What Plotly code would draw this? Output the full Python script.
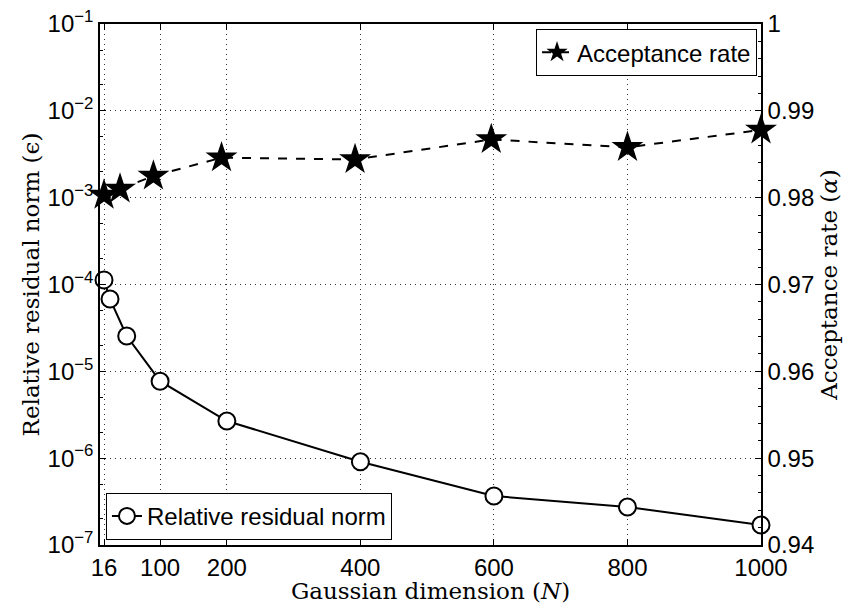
import plotly.graph_objects as go

# Relative residual norm versus Gaussian dimension
dim_residual = [16, 25, 50, 100, 200, 400, 600, 800, 1000]
residual_norm = [1.13e-4, 6.8e-5, 2.55e-5, 7.7e-6, 2.68e-6, 9.1e-7, 3.67e-7, 2.74e-7, 1.70e-7]

# Acceptance rate versus Gaussian dimension
dim_accept = [16, 40, 90, 192, 392, 596, 800, 1000]
accept_rate = [0.9803, 0.9810, 0.9825, 0.9846, 0.9844, 0.9867, 0.9858, 0.9878]

left_tick_exps = [-7, -6, -5, -4, -3, -2, -1]
right_ticks = [0.94, 0.95, 0.96, 0.97, 0.98, 0.99, 1.0]
right_tick_text = ["0.94", "0.95", "0.96", "0.97", "0.98", "0.99", "1"]
x_ticks = [16, 100, 200, 400, 600, 800, 1000]

tick_font = dict(family="Liberation Sans", size=24, color="black")
title_font = dict(family="DejaVu Serif", size=23, color="black")
legend_font = dict(family="Liberation Sans", size=24, color="black")

fig = go.Figure()

fig.add_trace(go.Scatter(
    x=dim_residual, y=residual_norm, name="Relative residual norm",
    mode="lines+markers", yaxis="y", legend="legend2", showlegend=True,
    line=dict(color="black", width=2),
    marker=dict(symbol="circle", size=17, color="white",
                line=dict(color="black", width=2)),
    cliponaxis=False,
))

fig.add_trace(go.Scatter(
    x=dim_accept, y=accept_rate, name="Acceptance rate",
    mode="lines+markers", yaxis="y2", legend="legend", showlegend=True,
    line=dict(color="black", width=2, dash="dash"),
    marker=dict(symbol="star", size=24, color="black",
                line=dict(color="black", width=0)),
    cliponaxis=False,
))

grid = dict(showgrid=True, gridcolor="#333333", griddash="1px,4px", gridwidth=1)

fig.update_layout(
    width=850, height=604,
    margin=dict(l=100, r=89, t=24, b=59),
    paper_bgcolor="white", plot_bgcolor="white",
    showlegend=True,
    xaxis=dict(
        range=[10, 1000], tickvals=x_ticks, ticks="inside", ticklen=6,
        tickcolor="black", linecolor="black", linewidth=1.5, mirror="ticks",
        showline=True, zeroline=False, tickfont=tick_font, automargin=False,
        title=dict(text="Gaussian dimension (<i>N</i>)", font=title_font, standoff=0),
        **grid,
    ),
    yaxis=dict(
        type="log", range=[-7, -1],
        tickvals=[10 ** e for e in left_tick_exps],
        ticktext=["10<sup>\u2212%d</sup>" % (-e) for e in left_tick_exps],
        ticks="inside", ticklen=6, tickcolor="black",
        linecolor="black", linewidth=1.5, showline=True, zeroline=False,
        tickfont=tick_font, automargin=False,
        minor=dict(ticks="inside", ticklen=3, tickcolor="black", showgrid=False),
        title=dict(text="Relative residual norm (\u03f5)", font=title_font, standoff=2),
        **grid,
    ),
    yaxis2=dict(
        overlaying="y", side="right", range=[0.94, 1.0],
        tickvals=right_ticks, ticktext=right_tick_text,
        ticks="inside", ticklen=6, tickcolor="black",
        linecolor="black", linewidth=1.5, showline=True, zeroline=False,
        showgrid=False, tickfont=tick_font, automargin=False,
        minor=dict(ticks="inside", ticklen=3, tickcolor="black", dtick=0.002),
        title=dict(text="Acceptance rate (<i>\u03b1</i>)", font=title_font, standoff=8),
    ),
    legend=dict(
        visible=True,
        x=0.994, y=0.99, xanchor="right", yanchor="top",
        bordercolor="black", borderwidth=1, bgcolor="white",
        font=legend_font, itemwidth=30, tracegroupgap=0,
    ),
    legend2=dict(
        visible=True,
        x=0.009, y=0.01, xanchor="left", yanchor="bottom",
        bordercolor="black", borderwidth=1, bgcolor="white",
        font=legend_font, itemwidth=30, tracegroupgap=0,
    ),
)

fig.write_html("out.html")
